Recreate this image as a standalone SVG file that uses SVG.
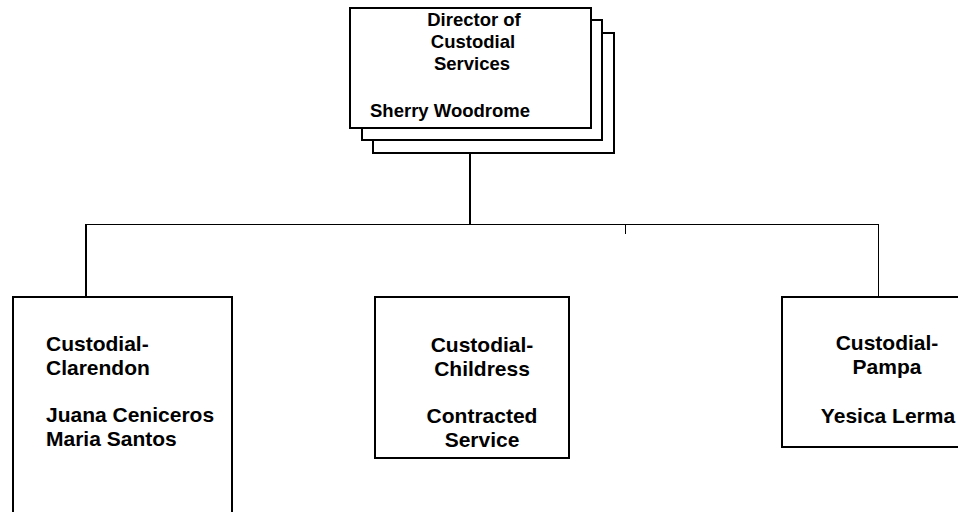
<svg xmlns="http://www.w3.org/2000/svg" width="958" height="512" viewBox="0 0 958 512">
<style>
.box{fill:#fff;stroke:#000;stroke-width:2}
.t{font-family:"Liberation Sans",Arial,sans-serif;font-weight:bold;fill:#000}
.top{font-size:18.5px}
.sub{font-size:21px}
.c{text-anchor:middle}
.ln{stroke:#000;fill:none}
</style>
<rect width="958" height="512" fill="#fff"/>
<g id="connectors">
<line class="ln" x1="470" y1="153" x2="470" y2="225" stroke-width="2"/>
<line class="ln" x1="85" y1="224.5" x2="878.5" y2="224.5" stroke-width="1"/>
<line class="ln" x1="86" y1="224" x2="86" y2="297" stroke-width="2"/>
<line class="ln" x1="878.5" y1="224" x2="878.5" y2="297" stroke-width="1"/>
<line class="ln" x1="625.5" y1="224" x2="625.5" y2="234" stroke-width="1"/>
</g>
<g id="director">
<rect class="box" x="373" y="33" width="241" height="120"/>
<rect class="box" x="362" y="20" width="240" height="120"/>
<rect class="box" x="350" y="8" width="241" height="120"/>
<text class="t top c" x="474" y="26">Director of</text>
<text class="t top c" x="473" y="48">Custodial</text>
<text class="t top c" x="472" y="70">Services</text>
<text class="t top" x="370" y="117">Sherry Woodrome</text>
</g>
<g id="clarendon">
<rect class="box" x="13" y="297" width="219" height="230"/>
<text class="t sub" x="46" y="351">Custodial-</text>
<text class="t sub" x="46" y="375">Clarendon</text>
<text class="t sub" x="46" y="422">Juana Ceniceros</text>
<text class="t sub" x="46" y="446">Maria Santos</text>
</g>
<g id="childress">
<rect class="box" x="375" y="297" width="194" height="161"/>
<text class="t sub c" x="482" y="352">Custodial-</text>
<text class="t sub c" x="482" y="376">Childress</text>
<text class="t sub c" x="482" y="423">Contracted</text>
<text class="t sub c" x="482" y="447">Service</text>
</g>
<g id="pampa">
<rect class="box" x="782" y="297" width="190" height="150"/>
<text class="t sub c" x="887" y="350">Custodial-</text>
<text class="t sub c" x="887" y="374">Pampa</text>
<text class="t sub c" x="888" y="423">Yesica Lerma</text>
</g>
</svg>
